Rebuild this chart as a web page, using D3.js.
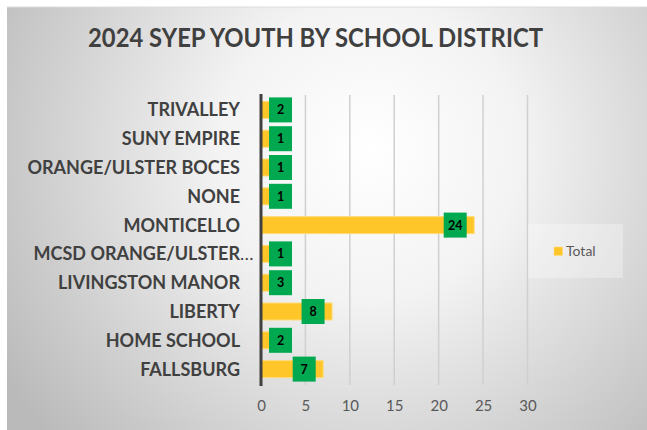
<!DOCTYPE html>
<html><head><meta charset="utf-8">
<script src="https://cdn.jsdelivr.net/npm/d3@7"></script>
<style>html,body{margin:0;padding:0;background:#fff;}svg{display:block;}</style>
</head><body>
<svg id="chart" width="647" height="430"></svg>
<script>
const categories = ["TRIVALLEY","SUNY EMPIRE","ORANGE/ULSTER BOCES","NONE","MONTICELLO","MCSD ORANGE/ULSTER…","LIVINGSTON MANOR","LIBERTY","HOME SCHOOL","FALLSBURG"];
const totals = [2,1,1,1,24,1,3,8,2,7];
const xTicks = [0,5,10,15,20,25,30];
const title = "2024 SYEP YOUTH BY SCHOOL DISTRICT";
const legendLabel = "Total";

const svg = d3.select("#chart");
const defs = svg.append("defs");
const grad = defs.append("radialGradient").attr("id","bg")
  .attr("gradientUnits","userSpaceOnUse").attr("cx",370).attr("cy",150).attr("r",430);
grad.append("stop").attr("offset","0").attr("stop-color","#ffffff");
grad.append("stop").attr("offset","0.35").attr("stop-color","#f3f3f3");
grad.append("stop").attr("offset","1").attr("stop-color","#bababa");

svg.append("rect").attr("x",7).attr("y",7).attr("width",640).attr("height",423).attr("fill","url(#bg)");
svg.append("line").attr("x1",7).attr("x2",647).attr("y1",7).attr("y2",7).attr("stroke","#dcdcdc").attr("stroke-width",1);

const font = "Lato, 'Open Sans', sans-serif";

svg.append("text").attr("x",315.5).attr("y",47).attr("text-anchor","middle")
  .attr("font-family",font).attr("font-weight","bold").attr("font-size",27)
  .attr("fill","#404040").attr("textLength",455).attr("lengthAdjust","spacingAndGlyphs")
  .text(title);

const x = d3.scaleLinear().domain([0,30]).range([261,527.5]);
const y = d3.scaleBand().domain(categories).range([95.5,383.5]).paddingInner(0.41).paddingOuter(0.205);

// gridlines
svg.append("g").selectAll("line").data(xTicks.filter(d=>d>0)).join("line")
  .attr("x1",d=>x(d)).attr("x2",d=>x(d)).attr("y1",95).attr("y2",385)
  .attr("stroke","#d0d0d0").attr("stroke-width",1.5);

// x axis labels
const xAxis = d3.axisBottom(x).tickValues(xTicks).tickSize(0).tickPadding(0);
const gx = svg.append("g").attr("transform","translate(0,397)").call(xAxis);
gx.select(".domain").remove();
gx.selectAll("text").attr("font-family",font).attr("font-size",15).attr("fill","#595959").attr("dy","0.95em");

// bars
svg.append("g").selectAll("rect").data(categories).join("rect")
  .attr("x",x(0)).attr("y",d=>y(d)).attr("width",(d,i)=>x(totals[i])-x(0)).attr("height",y.bandwidth())
  .attr("fill","#FFC629").attr("stroke","#FFDC7A").attr("stroke-width",1);

// axis line
svg.append("line").attr("x1",x(0)).attr("x2",x(0)).attr("y1",94).attr("y2",386)
  .attr("stroke","#404040").attr("stroke-width",3);

// category labels
const yAxis = d3.axisLeft(y).tickSize(0).tickPadding(0);
const gy = svg.append("g").attr("transform","translate(240,0)").call(yAxis);
gy.select(".domain").remove();
gy.selectAll("text").attr("font-family",font).attr("font-weight","bold").attr("font-size",18)
  .attr("fill","#404040").attr("dy","0.36em")
  .attr("text-anchor",d=>d.endsWith("…")?"start":"end")
  .each(function(d){
    if(d.endsWith("…")){
      const t=d3.select(this); t.text(null);
      t.append("tspan").text(d.slice(0,-1));
      const w=this.getComputedTextLength();
      t.attr("x",-w);
      t.append("tspan").attr("font-weight","normal").text("…");
    }
  });

// data label boxes
const bw = 23, bh = 25;
const lbl = svg.append("g").selectAll("g").data(categories).join("g")
  .attr("transform",(d,i)=>{
    const cx = Math.max(x(totals[i]) - 19, x(0) + 19.5);
    return `translate(${cx},${y(d)+y.bandwidth()/2})`;
  });
lbl.append("rect").attr("x",-bw/2).attr("y",-bh/2).attr("width",bw).attr("height",bh).attr("fill","#00A84F");
lbl.append("text").attr("text-anchor","middle").attr("dy","0.36em")
  .attr("font-family",font).attr("font-weight","bold").attr("font-size",12.5).attr("fill","#000")
  .text((d,i)=>totals[i]);

// legend
svg.append("rect").attr("x",528).attr("y",224).attr("width",95).attr("height",54).attr("fill","#ffffff").attr("fill-opacity",0.3);
svg.append("rect").attr("x",554).attr("y",247).attr("width",8.5).attr("height",8.5).attr("fill","#FFC629").attr("stroke","#FFDC7A").attr("stroke-width",0.5);
svg.append("text").attr("x",566).attr("y",256).attr("font-family",font).attr("font-size",14).attr("fill","#595959").text(legendLabel);
</script>
</body></html>
